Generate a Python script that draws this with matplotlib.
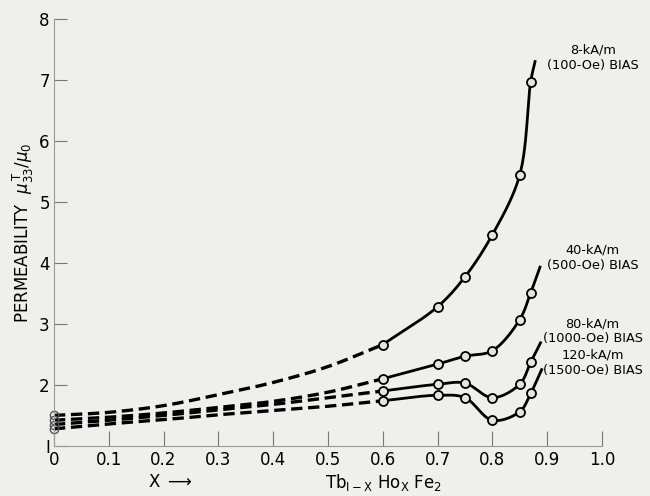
import numpy as np
import matplotlib
matplotlib.use("Agg")
import matplotlib.pyplot as plt

# values
x_dash = [0.0, 0.1, 0.2, 0.3, 0.4, 0.5, 0.6]
dash_8 = [1.50, 1.55, 1.66, 1.84, 2.04, 2.30, 2.66]
dash_40 = [1.42, 1.47, 1.54, 1.63, 1.73, 1.88, 2.10]
dash_80 = [1.35, 1.42, 1.50, 1.59, 1.68, 1.79, 1.90]
dash_120 = [1.28, 1.36, 1.43, 1.51, 1.58, 1.65, 1.74]

x_solid = [0.6, 0.7, 0.75, 0.8, 0.85, 0.87]
solid_8 = [2.66, 3.28, 3.77, 4.46, 5.44, 6.97]
solid_40 = [2.10, 2.34, 2.47, 2.56, 3.07, 3.51]
solid_80 = [1.90, 2.01, 2.03, 1.79, 2.01, 2.37]
solid_120 = [1.74, 1.83, 1.79, 1.42, 1.56, 1.86]

# where each solid curve stops above the last measured point
end_x = [0.878, 0.887, 0.888, 0.890]
end_y = [7.30, 3.93, 2.69, 2.25]

labels = ["8-kA/m\n(100-Oe) BIAS", "40-kA/m\n(500-Oe) BIAS",
          "80-kA/m\n(1000-Oe) BIAS", "120-kA/m\n(1500-Oe) BIAS"]
label_y = [7.36, 4.08, 2.88, 2.36]

x_ticks = [0, 0.1, 0.2, 0.3, 0.4, 0.5, 0.6, 0.7, 0.8, 0.9, 1.0]
x_ticklabels = ["0", "0.1", "0.2", "0.3", "0.4", "0.5", "0.6", "0.7", "0.8", "0.9", "1.0"]
y_ticks = [1, 2, 3, 4, 5, 6, 7, 8]
y_ticklabels = ["I", "2", "3", "4", "5", "6", "7", "8"]


def smooth(xs, ys, n=24, sx=9.0):
    # centripetal catmull-rom through the points (x scaled to match pixel aspect)
    p = np.column_stack([np.asarray(xs) * sx, np.asarray(ys)])
    p = np.vstack([2 * p[0] - p[1], p, 2 * p[-1] - p[-2]])
    out = []
    for i in range(1, len(p) - 2):
        p0, p1, p2, p3 = p[i - 1], p[i], p[i + 1], p[i + 2]
        t0 = 0.0
        t1 = t0 + np.linalg.norm(p1 - p0) ** 0.5
        t2 = t1 + np.linalg.norm(p2 - p1) ** 0.5
        t3 = t2 + np.linalg.norm(p3 - p2) ** 0.5
        t = np.linspace(t1, t2, n, endpoint=False)[:, None]
        a1 = (t1 - t) / (t1 - t0) * p0 + (t - t0) / (t1 - t0) * p1
        a2 = (t2 - t) / (t2 - t1) * p1 + (t - t1) / (t2 - t1) * p2
        a3 = (t3 - t) / (t3 - t2) * p2 + (t - t2) / (t3 - t2) * p3
        b1 = (t2 - t) / (t2 - t0) * a1 + (t - t0) / (t2 - t0) * a2
        b2 = (t3 - t) / (t3 - t1) * a2 + (t - t1) / (t3 - t1) * a3
        c = (t2 - t) / (t2 - t1) * b1 + (t - t1) / (t2 - t1) * b2
        out.append(c)
    out.append(p[-2][None, :])
    out = np.vstack(out)
    return out[:, 0] / sx, out[:, 1]


bg = "#efefec"
fig = plt.figure(figsize=(6.5, 4.96), dpi=100, facecolor=bg)
ax = fig.add_axes([0.083, 0.101, 0.843, 0.861], facecolor=bg)

dashes = [dash_8, dash_40, dash_80, dash_120]
solids = [solid_8, solid_40, solid_80, solid_120]

for d, s, ex, ey, lab, ly in zip(dashes, solids, end_x, end_y, labels, label_y):
    xd, yd = smooth(x_dash, d)
    ax.plot(xd, yd, color="black", lw=2.4, dashes=(3.4, 1.7), solid_capstyle="butt")
    xs, ys = smooth(x_solid + [ex], s + [ey])
    ax.plot(xs, ys, color="black", lw=2.0)
    ax.plot(x_solid, s, "o", ms=6.5, mfc="#e4e4e0", mec="black", mew=1.3)
    ax.plot([0], [d[0]], "o", ms=6, mfc="none", mec="#555555", mew=1.0, clip_on=False)
    ax.text(0.983, ly, lab, fontsize=9.3, ha="center", va="center",
            linespacing=1.2, clip_on=False)

ax.set_xlim(0, 1.0)
ax.set_ylim(1, 8)
ax.set_xticks(x_ticks)
ax.set_xticklabels(x_ticklabels, fontsize=12)
ax.set_yticks(y_ticks)
ax.set_yticklabels(y_ticklabels, fontsize=12)
ax.tick_params(direction="in", length=11, width=0.8, color="#777777", pad=4)
ax.tick_params(axis="y", length=9, pad=3)
for side in ["top", "right"]:
    ax.spines[side].set_visible(False)
for side in ["left", "bottom"]:
    ax.spines[side].set_color("#999999")
    ax.spines[side].set_linewidth(0.8)

ax.set_ylabel(r"PERMEABILITY  $\mu^{\,\mathrm{T}}_{33}/\mu_0$", fontsize=12, labelpad=2)
fig.text(0.228, 0.028, r"X $\longrightarrow$", fontsize=12, ha="left", va="center")
fig.text(0.50, 0.028, r"Tb$_{\mathrm{I-X}}$ Ho$_{\mathrm{X}}$ Fe$_2$", fontsize=12,
         ha="left", va="center")

fig.savefig("out.png", dpi=100, facecolor=bg)
